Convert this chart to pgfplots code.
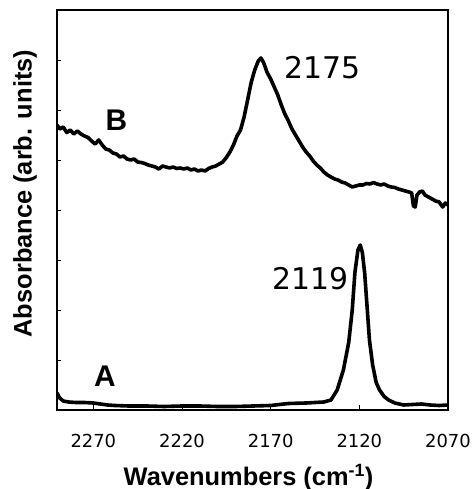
\documentclass[border=0pt]{standalone}
\usepackage{fontspec}
\setmainfont{Liberation Sans}
\newfontfamily\dv{DejaVu Sans}
\usepackage{pgfplots}
\pgfplotsset{compat=1.18}
\usetikzlibrary{calc}

\begin{document}
\begin{tikzpicture}
\begin{axis}[
  scale only axis,
  width=391bp, height=400bp,
  x dir=reverse,
  xmin=2070, xmax=2290.5,
  ymin=0, ymax=8,
  xtick={2270,2220,2170,2120,2070},
  ytick={1,...,7},
  yticklabels={},
  tick align=inside,
  xtick pos=bottom, ytick pos=left,
  major tick length=4.5bp,
  axis line style={line width=1.2bp},
  tick style={line width=0.8bp,black},
  x tick label style={font=\dv\fontsize{18}{20}\selectfont, anchor=base, yshift=-37bp},
  /pgf/number format/assume math mode=true,
  /pgf/number format/set thousands separator={},
  xlabel={\bfseries Wavenumbers (cm\textsuperscript{-1})},
  ylabel={\bfseries Absorbance (arb. units)},
  label style={font=\fontsize{25.5}{28}\selectfont},
  xlabel style={at={(axis description cs:0.49,-0.1875)}, anchor=base},
  ylabel style={at={(axis description cs:-0.082,0.541)}, anchor=center},
  clip=true,
]
\addplot[black, line width=3.6bp, line join=round, mark=none] coordinates {
(2290.5,0.34)(2289,0.24)(2287,0.18)(2284,0.16)(2280,0.15)(2275,0.15)(2270,0.14)
(2266,0.12)(2262,0.1)(2258,0.09)(2250,0.08)(2240,0.08)(2230,0.07)(2220,0.08)
(2210,0.08)(2200,0.07)(2190,0.07)(2180,0.08)(2170,0.09)(2165,0.11)(2160,0.13)
(2150,0.14)(2145,0.15)(2140,0.16)(2136,0.2)(2132.5,0.4)(2129,0.8)(2126,1.35)
(2124,2.0)(2122.5,2.75)(2120.8,3.2)(2119.5,3.3)(2118.3,3.15)(2117,2.74)
(2115.5,2.0)(2114.3,1.4)(2112.5,0.9)(2110.5,0.55)(2108.6,0.4)(2106,0.27)
(2103.5,0.2)(2100,0.14)(2095,0.1)(2090,0.11)(2085,0.12)(2080,0.1)(2075,0.09)(2070,0.1)
};
\addplot[black, line width=3.6bp, line join=round, mark=none] coordinates {
(2290.5,5.7)(2289,5.62)(2287,5.66)(2285,5.55)(2283,5.6)(2281,5.52)(2279,5.58)
(2277,5.52)(2275,5.48)(2273,5.45)(2271,5.38)(2269,5.32)(2267,5.4)(2265,5.3)
(2263,5.22)(2261,5.2)(2259,5.14)(2257,5.12)(2255,5.06)(2253,5.08)(2251,5.02)
(2249,5.0)(2247,5.02)(2245,4.96)(2243,4.95)(2241,4.93)(2239,4.9)(2237,4.88)
(2235,4.86)(2233,4.82)(2231,4.88)(2229,4.86)(2227,4.84)(2225,4.86)(2223,4.83)
(2221,4.84)(2219,4.82)(2217,4.84)(2215,4.8)(2213,4.82)(2211,4.78)(2209,4.8)
(2207,4.78)(2205,4.83)(2203,4.86)(2201,4.88)(2199,4.92)(2197,4.96)(2195,5.05)
(2193,5.16)(2191,5.3)(2189,5.48)(2187,5.6)(2185,5.86)(2183,6.2)(2181,6.55)
(2179,6.8)(2177,6.98)(2175.5,7.04)(2174,6.95)(2172,6.75)(2170,6.62)(2168,6.46)
(2166,6.3)(2164,6.1)(2162,5.92)(2160,5.78)(2158,5.62)(2156,5.5)(2154,5.38)
(2152,5.26)(2150,5.16)(2148,5.08)(2146,4.98)(2144,4.9)(2142,4.84)(2140,4.76)
(2138,4.7)(2136,4.66)(2134,4.62)(2132,4.6)(2130,4.56)(2128,4.54)(2126,4.5)
(2124,4.46)(2122,4.48)(2120,4.5)(2118,4.5)(2116,4.53)(2114,4.52)(2112,4.55)
(2110,4.52)(2108,4.5)(2106,4.52)(2104,4.48)(2102,4.46)(2100,4.45)(2098,4.42)
(2096,4.4)(2094,4.38)(2092,4.36)(2090.5,4.34)(2089.5,4.08)(2088.5,4.06)
(2087.5,4.3)(2086,4.36)(2084.5,4.38)(2083,4.3)(2081,4.26)(2079,4.22)(2077,4.18)
(2075,4.16)(2073,4.06)(2071.5,4.14)(2070,4.1)
};
\node[font=\bfseries\fontsize{30}{32}\selectfont] at (axis cs:2257,5.8) {B};
\node[font=\bfseries\fontsize{30}{32}\selectfont] at (axis cs:2263.5,0.68) {A};
\node[font=\dv\fontsize{30}{32}\selectfont] at (axis cs:2141,6.84) {2175};
\node[font=\dv\fontsize{30}{32}\selectfont] at (axis cs:2147.8,2.62) {2119};
\end{axis}
\pgfresetboundingbox
\path[use as bounding box] ($(current axis.south west)+(-57bp,-79bp)$) rectangle ($(current axis.north east)+(23bp,10bp)$);
\end{tikzpicture}
\end{document}
